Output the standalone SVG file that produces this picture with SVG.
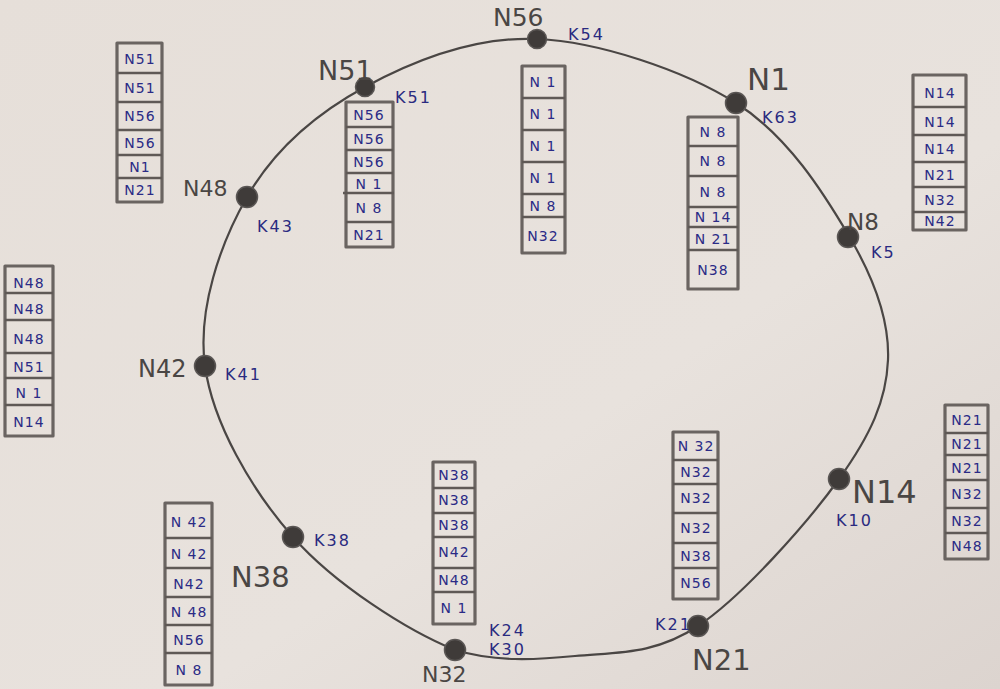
<svg xmlns="http://www.w3.org/2000/svg" width="1000" height="689" viewBox="0 0 1000 689">
<defs>
<linearGradient id="paper" x1="0" y1="0" x2="1" y2="1">
<stop offset="0" stop-color="#e6dfd9"/>
<stop offset="0.6" stop-color="#e8e2dd"/>
<stop offset="1" stop-color="#dcd4cf"/>
</linearGradient>
<style>
.ring{fill:none;stroke:#4a4644;stroke-width:2.2;stroke-linecap:round}
.dot{fill:#3f3b39;stroke:#5a5654;stroke-width:1.5}
.nl{font-family:"DejaVu Sans",sans-serif;fill:#4a4644;font-weight:normal}
.kl{font-family:"DejaVu Sans",sans-serif;fill:#2a2a80;font-size:16px;letter-spacing:2px}
.box{fill:none;stroke:#6a6461;stroke-width:3.2;stroke-linejoin:round}
.row{stroke:#5f5956;stroke-width:2.6}
.cell{font-family:"DejaVu Sans",sans-serif;fill:#2b2b86;font-size:14px;text-anchor:middle;dominant-baseline:central;letter-spacing:1px}
</style>
</defs>
<rect width="1000" height="689" fill="url(#paper)"/>

<g id="connectors">
<path class="ring" d="M537,39 C598.8,41.7 684,70.2 736,103 C788,135.8 823.7,193.2 849,236 C874.3,278.8 889.7,319.5 888,360 C886.3,400.5 870.7,434.7 839,479 C807.3,523.3 742,596.7 698,626 C654,655.3 615.5,652 575,656 C534.5,660 495,662 455,650 C407,630.5 334.7,584.3 293,537 C251.3,489.7 212.7,422.7 205,366 C197.3,309.3 220.3,243.5 247,197 C273.7,150.5 316.7,113.3 365,87 C413.3,60.7 475.2,36.3 537,39 Z"/>
</g>

<g id="node-N56">
<circle class="dot" cx="537" cy="39" r="9.5"/>
<text class="nl" x="493" y="26" font-size="25">N56</text>
<text class="kl" x="568" y="40">K54</text>
</g>
<g id="node-N1">
<circle class="dot" cx="736" cy="103" r="10.5"/>
<text class="nl" x="747" y="90" font-size="31">N1</text>
<text class="kl" x="762" y="123">K63</text>
</g>
<g id="node-N8">
<circle class="dot" cx="848" cy="237" r="10.5"/>
<text class="nl" x="847" y="230" font-size="23">N8</text>
<text class="kl" x="871" y="258">K5</text>
</g>
<g id="node-N14">
<circle class="dot" cx="839" cy="479" r="10.5"/>
<text class="nl" x="852" y="503" font-size="32">N14</text>
<text class="kl" x="836" y="526">K10</text>
</g>
<g id="node-N21">
<circle class="dot" cx="698" cy="626" r="10.5"/>
<text class="nl" x="692" y="670" font-size="29">N21</text>
<text class="kl" x="655" y="630">K21</text>
</g>
<g id="node-N32">
<circle class="dot" cx="455" cy="650" r="10.5"/>
<text class="nl" x="422" y="682" font-size="22">N32</text>
<text class="kl" x="489" y="636">K24</text>
<text class="kl" x="489" y="655">K30</text>
</g>
<g id="node-N38">
<circle class="dot" cx="293" cy="537" r="10.5"/>
<text class="nl" x="231" y="587" font-size="29">N38</text>
<text class="kl" x="314" y="546">K38</text>
</g>
<g id="node-N42">
<circle class="dot" cx="205" cy="366" r="10.5"/>
<text class="nl" x="138" y="377" font-size="24">N42</text>
<text class="kl" x="225" y="380">K41</text>
</g>
<g id="node-N48">
<circle class="dot" cx="247" cy="197" r="10.5"/>
<text class="nl" x="183" y="196" font-size="22">N48</text>
<text class="kl" x="257" y="232">K43</text>
</g>
<g id="node-N51">
<circle class="dot" cx="365" cy="87" r="9.5"/>
<text class="nl" x="318" y="80" font-size="27">N51</text>
<text class="kl" x="395" y="103">K51</text>
</g>

<g id="table-N48">
<rect class="box" x="117" y="43" width="45" height="159"/>
<line class="row" x1="117" y1="73" x2="162" y2="73"/>
<line class="row" x1="117" y1="102" x2="162" y2="102"/>
<line class="row" x1="117" y1="130" x2="162" y2="130"/>
<line class="row" x1="117" y1="155" x2="162" y2="155"/>
<line class="row" x1="117" y1="178" x2="162" y2="178"/>
<text class="cell" x="140" y="59">N51</text>
<text class="cell" x="140" y="88">N51</text>
<text class="cell" x="140" y="116">N56</text>
<text class="cell" x="140" y="143">N56</text>
<text class="cell" x="140" y="167">N1</text>
<text class="cell" x="140" y="190" font-size="12">N21</text>
</g>

<g id="table-N51">
<rect class="box" x="346" y="102" width="47" height="145"/>
<line class="row" x1="346" y1="127" x2="393" y2="127"/>
<line class="row" x1="346" y1="150" x2="393" y2="150"/>
<line class="row" x1="346" y1="173" x2="393" y2="173"/>
<line class="row" x1="343" y1="193" x2="394" y2="193"/>
<line class="row" x1="346" y1="222" x2="393" y2="222"/>
<text class="cell" x="369" y="115" font-size="13">N56</text>
<text class="cell" x="369" y="139" font-size="13">N56</text>
<text class="cell" x="369" y="162" font-size="13">N56</text>
<text class="cell" x="369" y="184">N 1</text>
<text class="cell" x="369" y="208">N 8</text>
<text class="cell" x="369" y="235">N21</text>
</g>

<g id="table-N56">
<rect class="box" x="522" y="66" width="43" height="187"/>
<line class="row" x1="522" y1="98" x2="565" y2="98"/>
<line class="row" x1="522" y1="130" x2="565" y2="130"/>
<line class="row" x1="522" y1="162" x2="565" y2="162"/>
<line class="row" x1="522" y1="194" x2="565" y2="194"/>
<line class="row" x1="522" y1="217" x2="565" y2="217"/>
<text class="cell" x="543" y="82">N 1</text>
<text class="cell" x="543" y="114">N 1</text>
<text class="cell" x="543" y="146">N 1</text>
<text class="cell" x="543" y="178">N 1</text>
<text class="cell" x="543" y="206">N 8</text>
<text class="cell" x="543" y="236">N32</text>
</g>

<g id="table-N1">
<rect class="box" x="688" y="117" width="50" height="172"/>
<line class="row" x1="688" y1="146" x2="738" y2="146"/>
<line class="row" x1="688" y1="176" x2="738" y2="176"/>
<line class="row" x1="688" y1="207" x2="738" y2="207"/>
<line class="row" x1="688" y1="227" x2="738" y2="227"/>
<line class="row" x1="688" y1="250" x2="738" y2="250"/>
<text class="cell" x="713" y="132">N 8</text>
<text class="cell" x="713" y="161">N 8</text>
<text class="cell" x="713" y="192">N 8</text>
<text class="cell" x="713" y="217" font-size="13">N 14</text>
<text class="cell" x="713" y="239" font-size="13">N 21</text>
<text class="cell" x="713" y="270">N38</text>
</g>

<g id="table-N8">
<rect class="box" x="913" y="75" width="53" height="155"/>
<line class="row" x1="913" y1="107" x2="966" y2="107"/>
<line class="row" x1="913" y1="135" x2="966" y2="135"/>
<line class="row" x1="913" y1="162" x2="966" y2="162"/>
<line class="row" x1="913" y1="187" x2="966" y2="187"/>
<line class="row" x1="913" y1="212" x2="966" y2="212"/>
<text class="cell" x="940" y="93">N14</text>
<text class="cell" x="940" y="122">N14</text>
<text class="cell" x="940" y="149">N14</text>
<text class="cell" x="940" y="175">N21</text>
<text class="cell" x="940" y="200">N32</text>
<text class="cell" x="940" y="221" font-size="12">N42</text>
</g>

<g id="table-N42">
<rect class="box" x="5" y="266" width="48" height="170"/>
<line class="row" x1="5" y1="293" x2="53" y2="293"/>
<line class="row" x1="5" y1="320" x2="53" y2="320"/>
<line class="row" x1="5" y1="353" x2="53" y2="353"/>
<line class="row" x1="5" y1="378" x2="53" y2="378"/>
<line class="row" x1="5" y1="405" x2="53" y2="405"/>
<text class="cell" x="29" y="283">N48</text>
<text class="cell" x="29" y="309">N48</text>
<text class="cell" x="29" y="339">N48</text>
<text class="cell" x="29" y="367">N51</text>
<text class="cell" x="29" y="393">N  1</text>
<text class="cell" x="29" y="422">N14</text>
</g>

<g id="table-N38">
<rect class="box" x="165" y="503" width="47" height="182"/>
<line class="row" x1="165" y1="538" x2="212" y2="538"/>
<line class="row" x1="165" y1="568" x2="212" y2="568"/>
<line class="row" x1="165" y1="597" x2="212" y2="597"/>
<line class="row" x1="165" y1="625" x2="212" y2="625"/>
<line class="row" x1="165" y1="653" x2="212" y2="653"/>
<text class="cell" x="189" y="522">N 42</text>
<text class="cell" x="189" y="554">N 42</text>
<text class="cell" x="189" y="584">N42</text>
<text class="cell" x="189" y="612">N 48</text>
<text class="cell" x="189" y="640">N56</text>
<text class="cell" x="189" y="670">N 8</text>
</g>

<g id="table-N32">
<rect class="box" x="433" y="462" width="42" height="162"/>
<line class="row" x1="433" y1="488" x2="475" y2="488"/>
<line class="row" x1="433" y1="513" x2="475" y2="513"/>
<line class="row" x1="433" y1="537" x2="475" y2="537"/>
<line class="row" x1="433" y1="568" x2="475" y2="568"/>
<line class="row" x1="433" y1="592" x2="475" y2="592"/>
<text class="cell" x="454" y="475">N38</text>
<text class="cell" x="454" y="500">N38</text>
<text class="cell" x="454" y="525">N38</text>
<text class="cell" x="454" y="552">N42</text>
<text class="cell" x="454" y="580">N48</text>
<text class="cell" x="454" y="608">N 1</text>
</g>

<g id="table-N21">
<rect class="box" x="673" y="432" width="45" height="167"/>
<line class="row" x1="673" y1="460" x2="718" y2="460"/>
<line class="row" x1="673" y1="484" x2="718" y2="484"/>
<line class="row" x1="673" y1="513" x2="718" y2="513"/>
<line class="row" x1="673" y1="543" x2="718" y2="543"/>
<line class="row" x1="673" y1="568" x2="718" y2="568"/>
<text class="cell" x="696" y="446">N 32</text>
<text class="cell" x="696" y="472">N32</text>
<text class="cell" x="696" y="498">N32</text>
<text class="cell" x="696" y="528">N32</text>
<text class="cell" x="696" y="556">N38</text>
<text class="cell" x="696" y="583">N56</text>
</g>

<g id="table-N14">
<rect class="box" x="945" y="405" width="43" height="154"/>
<line class="row" x1="945" y1="433" x2="988" y2="433"/>
<line class="row" x1="945" y1="455" x2="988" y2="455"/>
<line class="row" x1="945" y1="480" x2="988" y2="480"/>
<line class="row" x1="945" y1="508" x2="988" y2="508"/>
<line class="row" x1="945" y1="533" x2="988" y2="533"/>
<text class="cell" x="967" y="420">N21</text>
<text class="cell" x="967" y="444">N21</text>
<text class="cell" x="967" y="468">N21</text>
<text class="cell" x="967" y="494">N32</text>
<text class="cell" x="967" y="521">N32</text>
<text class="cell" x="967" y="546">N48</text>
</g>
</svg>
